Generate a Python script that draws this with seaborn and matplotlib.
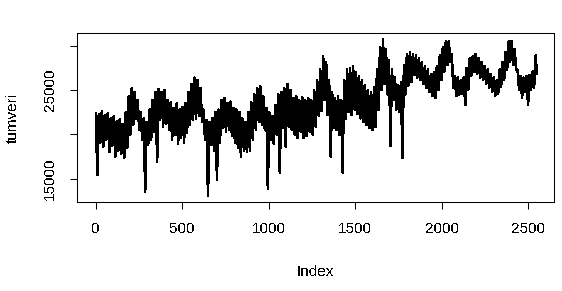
import numpy as np
import pandas as pd
import matplotlib
matplotlib.use("Agg")
import matplotlib.pyplot as plt
import seaborn as sns

# Envelope of the series: for each short stretch of the
# index, the highest and the lowest value reached (the line swings between them).
upper = [
    22400, 22300, 22600, 22200, 22400, 21800, 22000, 21500, 21700, 21200,
    22500, 24300, 25200, 24800, 23900, 22500, 21800, 21400, 22800, 23900,
    24800, 25100, 24800, 25000, 23900, 23600, 23000, 23500, 22800, 23100,
    23500, 24800, 25700, 26400, 26100, 25200, 22800, 21600, 21400, 21800,
    22500, 22800, 23900, 24100, 23500, 23700, 23000, 22800, 22500, 21800,
    21400, 22500, 23600, 24500, 25200, 25400, 24300, 23000, 22500, 22100,
    23300, 24500, 24800, 25200, 25700, 25000, 24100, 24300, 23900, 24200,
    23900, 24100, 23900, 25000, 26100, 27300, 28800, 28200, 26100, 24800,
    24100, 24300, 23900, 26100, 27300, 27500, 27700, 27000, 26600, 26100,
    25500, 25000, 24800, 25300, 27300, 29800, 30700, 29600, 28400, 27300,
    26400, 25600, 25900, 27800, 29100, 29300, 29100, 28900, 28600, 28200,
    27700, 27300, 26800, 27000, 27700, 28900, 29800, 30500, 30500, 29000,
    26600, 26400, 26100, 26400, 27500, 28600, 28800, 29100, 28600, 28200,
    27700, 27300, 26800, 26400, 26100, 27300, 28200, 29300, 30500, 30500,
    29600, 27300, 26600, 26400, 26600, 26700, 27100, 28900,
]
lower = [
    15400, 19100, 18600, 19400, 18000, 18700, 17500, 18200, 17800, 17400,
    18500, 19900, 21100, 21800, 20500, 19400, 13500, 18800, 19400, 20300,
    16900, 21600, 20900, 21200, 20500, 19400, 19900, 18900, 19600, 19100,
    20200, 21100, 21600, 21800, 22100, 21400, 19400, 13050, 18800, 18200,
    14900, 19000, 20700, 20300, 20500, 19800, 19100, 18500, 17500, 18200,
    18000, 18200, 19400, 20500, 21400, 21100, 20500, 13900, 19400, 18900,
    19900, 15700, 20700, 18600, 20900, 20500, 20000, 19600, 20300, 19600,
    19800, 20300, 20000, 20900, 22100, 22600, 23900, 22200, 17500, 20700,
    20500, 19900, 15700, 21800, 22500, 22200, 22800, 22300, 21800, 21400,
    21100, 20700, 20500, 20800, 22800, 25000, 25700, 24500, 18700, 23900,
    22800, 22500, 17300, 24500, 25500, 25900, 26700, 26400, 26100, 25700,
    25200, 24800, 24300, 24100, 25000, 26100, 27100, 27800, 28200, 25200,
    24300, 24500, 24600, 23300, 25000, 26600, 27000, 26800, 26400, 26100,
    25700, 25200, 24800, 24300, 24600, 25400, 26100, 27300, 28200, 27900,
    27300, 25000, 24100, 24800, 23300, 25000, 25200, 26800,
]
n_points = 2550
x_ticks = [0, 500, 1000, 1500, 2000, 2500]
y_ticks = [15000, 20000, 25000, 30000]
y_tick_labels = ["15000", "", "25000", ""]
x_label = "Index"
y_label = "tumveri"

sns.set_theme(style="white")
plt.rcParams["font.family"] = ["Liberation Sans", "DejaVu Sans"]
plt.rcParams["text.antialiased"] = False

values = np.empty(2 * len(upper))
values[0::2] = upper
values[1::2] = lower
index = 1 + np.arange(len(values)) * (n_points - 1) / (len(values) - 1)
df = pd.DataFrame({x_label: index, y_label: values})

W, H = 562, 291
fig = plt.figure(figsize=(W / 100, H / 100), dpi=100)
fig.patch.set_facecolor("white")
left, right, top, bottom = 77.3, 554.0, 33.3, 202.3
ax = fig.add_axes([left / W, (H - bottom) / H, (right - left) / W, (bottom - top) / H])

sns.lineplot(data=df, x=x_label, y=y_label, color="black", linewidth=1.1,
             antialiased=False, ax=ax, sort=False)

ax.set_xlim(-106, 2648)
ax.set_ylim(12340, 31400)
ax.set_xticks(x_ticks)
ax.set_xticklabels([str(t) for t in x_ticks])
ax.set_yticks(y_ticks)
ax.set_yticklabels(y_tick_labels, rotation=90, va="center")

for s in ax.spines.values():
    s.set_visible(True)
    s.set_color("black")
    s.set_linewidth(0.75)
ax.tick_params(axis="both", which="major", direction="out", length=5, width=0.75,
               color="black", labelcolor="black", labelsize=11, pad=9.5,
               bottom=True, left=True)
ax.grid(False)

ax.set_xlabel(x_label, fontsize=11, color="black", va="center")
ax.set_ylabel(y_label, fontsize=11, color="black", va="center")
ax.xaxis.set_label_coords(0.5, (bottom - 272) / (bottom - top))
ax.yaxis.set_label_coords((13 - left) / (right - left), 0.5)

fig.savefig("out.png", dpi=100, facecolor="white")
